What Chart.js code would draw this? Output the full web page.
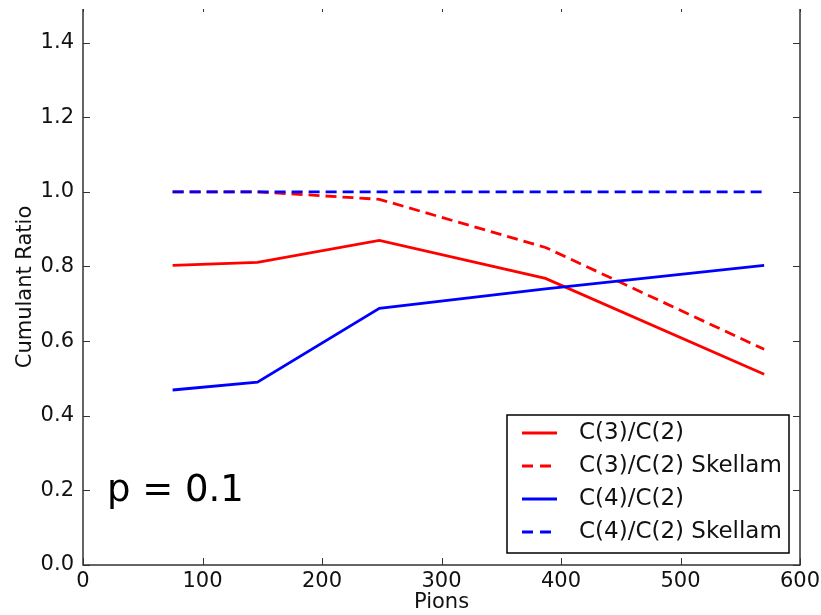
<!DOCTYPE html>
<html>
<head>
<meta charset="utf-8">
<script src="https://cdn.jsdelivr.net/npm/chart.js@4/dist/chart.umd.min.js"></script>
<style>
  html, body { margin: 0; padding: 0; background: #fff; }
  #wrap { width: 821px; height: 615px; overflow: hidden; }
</style>
</head>
<body>
<div id="wrap"><canvas id="ratio-chart" width="821" height="615"></canvas></div>
<script>
// values
var pions = [75, 146, 248, 387, 570];
var c3c2 = [0.803, 0.811, 0.870, 0.768, 0.511];
var c3c2Skellam = [1.0, 1.0, 0.980, 0.851, 0.578];
var c4c2 = [0.469, 0.490, 0.688, 0.740, 0.803];
var c4c2Skellam = [1.0, 1.0, 1.0, 1.0, 1.0];

var seriesLabels = ['C(3)/C(2)', 'C(3)/C(2) Skellam', 'C(4)/C(2)', 'C(4)/C(2) Skellam'];
var xTicks = [0, 100, 200, 300, 400, 500, 600];
var yTicks = [0.0, 0.2, 0.4, 0.6, 0.8, 1.0, 1.2, 1.4];
var annotation = 'p = 0.1';

var FONT = 'DejaVu Sans';

function toPoints(xs, ys) {
    return xs.map(function (x, i) { return { x: x, y: ys[i] }; });
}

function makeSet(label, values, color, dashed, order) {
    return {
        label: label,
        data: toPoints(pions, values),
        borderColor: color,
        backgroundColor: color,
        borderWidth: 2.8,
        borderDash: dashed ? [11, 6] : [],
        pointRadius: 0,
        tension: 0,
        fill: false,
        order: order
    };
}

function line(ctx, x1, y1, x2, y2) {
    ctx.beginPath();
    ctx.moveTo(x1, y1);
    ctx.lineTo(x2, y2);
    ctx.stroke();
}

// spines, inward ticks, legend box and the p label
var decor = {
    id: 'decor',
    afterDraw: function (chart) {
        var ctx = chart.ctx;
        var a = chart.chartArea;
        var x = chart.scales.x, y = chart.scales.y;
        ctx.save();
        ctx.strokeStyle = '#333';
        ctx.lineWidth = 1.5;
        ctx.beginPath();
        ctx.moveTo(a.left, a.top);
        ctx.lineTo(a.left, a.bottom);
        ctx.lineTo(a.right, a.bottom);
        ctx.lineTo(a.right, a.top);
        ctx.stroke();

        ctx.lineWidth = 1;
        yTicks.forEach(function (v) {
            var py = Math.round(y.getPixelForValue(v)) + 0.5;
            line(ctx, a.left, py, a.left + 7, py);
            line(ctx, a.right - 7, py, a.right, py);
        });
        xTicks.forEach(function (v) {
            var px = Math.round(x.getPixelForValue(v)) + 0.5;
            line(ctx, px, a.bottom, px, a.bottom - 7);
            line(ctx, px, a.top, px, a.top + 3);
        });

        // legend
        var bw = 282, bh = 138;
        var bx = a.right - 11 - bw, by = a.bottom - 12 - bh;
        ctx.fillStyle = '#fff';
        ctx.fillRect(bx, by, bw, bh);
        ctx.strokeStyle = '#000';
        ctx.lineWidth = 1.5;
        ctx.strokeRect(bx, by, bw, bh);
        ctx.font = '23px "' + FONT + '"';
        ctx.textBaseline = 'middle';
        ctx.textAlign = 'left';
        chart.data.datasets.forEach(function (ds, i) {
            var ry = by + 18 + i * 33;
            ctx.strokeStyle = ds.borderColor;
            ctx.lineWidth = 2.8;
            ctx.setLineDash(ds.borderDash.length ? [11, 7] : []);
            line(ctx, bx + 15, ry, bx + 50, ry);
            ctx.setLineDash([]);
            ctx.fillStyle = '#111';
            ctx.fillText(ds.label, bx + 72, ry);
        });

        ctx.font = '37px "' + FONT + '"';
        ctx.textBaseline = 'alphabetic';
        ctx.fillStyle = '#000';
        ctx.fillText(annotation, a.left + 24, 501);
        ctx.restore();
    }
};

var ctx = document.getElementById('ratio-chart').getContext('2d');
var ratioChart = new Chart(ctx, {
    type: 'line',
    data: {
        datasets: [
            makeSet(seriesLabels[0], c3c2, '#ff0000', false, 4),
            makeSet(seriesLabels[1], c3c2Skellam, '#ff0000', true, 3),
            makeSet(seriesLabels[2], c4c2, '#0000ff', false, 2),
            makeSet(seriesLabels[3], c4c2Skellam, '#0000ff', true, 1)
        ]
    },
    options: {
        responsive: false,
        animation: false,
        layout: { padding: { top: 9, right: 21, bottom: 0, left: 0 } },
        plugins: {
            legend: { display: false },
            tooltip: { enabled: false }
        },
        scales: {
            x: {
                type: 'linear',
                min: 0,
                max: 600,
                grid: { display: false, drawTicks: false },
                border: { display: false },
                ticks: {
                    stepSize: 100,
                    padding: 4,
                    color: '#111',
                    maxRotation: 0,
                    font: { family: FONT, size: 21 }
                },
                title: {
                    display: true,
                    text: 'Pions',
                    color: '#111',
                    font: { family: FONT, size: 21 },
                    padding: { top: 0, bottom: 0 }
                },
                afterFit: function (s) {
                    s.height = 50;
                    s.paddingLeft = 0;
                    s.paddingRight = 0;
                }
            },
            y: {
                min: 0,
                max: 1.49,
                grid: { display: false, drawTicks: false },
                border: { display: false },
                ticks: {
                    stepSize: 0.2,
                    padding: 9,
                    color: '#111',
                    font: { family: FONT, size: 21 },
                    callback: function (v) {
                        return Math.abs(v * 5 - Math.round(v * 5)) < 1e-6 ? v.toFixed(1) : null;
                    }
                },
                title: {
                    display: true,
                    text: 'Cumulant Ratio',
                    color: '#111',
                    font: { family: FONT, size: 21 },
                    padding: { top: 13, bottom: 0 }
                },
                afterFit: function (s) {
                    s.width = 83;
                    s.paddingTop = 0;
                    s.paddingBottom = 0;
                }
            }
        }
    },
    plugins: [decor]
});
</script>
</body>
</html>
